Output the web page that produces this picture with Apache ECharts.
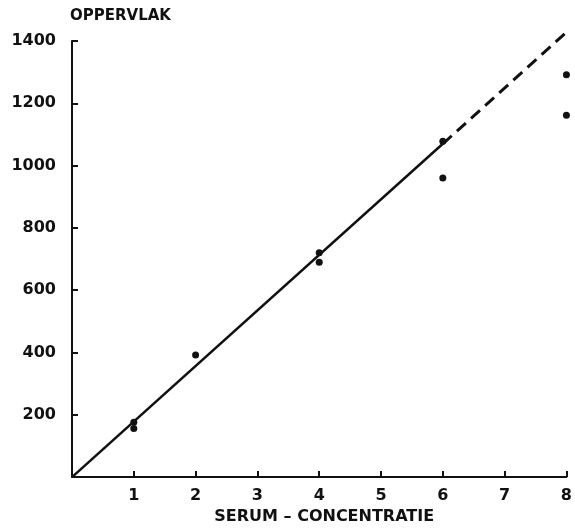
<!DOCTYPE html>
<html>
<head>
<meta charset="utf-8">
<script src="https://cdn.jsdelivr.net/npm/echarts@6/dist/echarts.min.js"></script>
<style>html,body{margin:0;padding:0;background:#fff;}#c{width:575px;height:530px;}</style>
</head>
<body>
<div id="c"></div>
<script>
// Data
var xTicks = [0, 1, 2, 3, 4, 5, 6, 7, 8];
var yTicks = [0, 200, 400, 600, 800, 1000, 1200, 1400];
var measuredX = [1, 1, 2, 4, 4, 6, 6, 8, 8];
var measuredY = [176, 156, 392, 720, 690, 1078, 960, 1292, 1162];
var fitSolidX = [0, 6];
var fitSolidY = [0, 1070];
var fitDashX = [6, 8];
var fitDashY = [1070, 1428];
var xName = 'SERUM – CONCENTRATIE';
var yName = 'OPPERVLAK';

var font = 'DejaVu Sans';
var chart = echarts.init(document.getElementById('c'));
function pairs(xs, ys){ return xs.map(function(x,i){return [x, ys[i]];}); }
chart.setOption({
  animation: false,
  backgroundColor: '#fff',
  grid: {left: 72, right: 6, top: 41, bottom: 51, containLabel: false},
  xAxis: {
    type: 'value', min: xTicks[0], max: xTicks[xTicks.length-1], interval: 1,
    name: xName, nameLocation: 'middle', nameGap: 28,
    nameTextStyle: {fontFamily: font, fontWeight: 'bold', fontSize: 16, color: '#111', padding:[0,0,0,10]},
    axisLine: {show: true, lineStyle: {color: '#111', width: 2}},
    axisTick: {show: true, inside: true, length: 6, lineStyle: {color: '#111', width: 2}},
    axisLabel: {showMinLabel: false, fontFamily: font, fontWeight: 'bold', fontSize: 16, color: '#111', margin: 11,
      formatter: function(v){ return String(v); }},
    splitLine: {show: false}
  },
  yAxis: {
    type: 'value', min: yTicks[0], max: yTicks[yTicks.length-1], interval: 200,
    name: yName, nameLocation: 'end', nameGap: 17,
    nameTextStyle: {fontFamily: font, fontWeight: 'bold', fontSize: 15, color: '#111', align: 'left', padding: [0,0,0,-2]},
    axisLine: {show: true, lineStyle: {color: '#111', width: 2}},
    axisTick: {show: true, inside: true, length: 6, lineStyle: {color: '#111', width: 2}},
    axisLabel: {showMinLabel: false, fontFamily: font, fontWeight: 'bold', fontSize: 16, color: '#111', margin: 16,
      formatter: function(v){ return String(v); }},
    splitLine: {show: false}
  },
  series: [
    {type: 'line', data: pairs(fitSolidX, fitSolidY), symbol: 'none', clip: false,
     lineStyle: {color: '#111', width: 2.5}},
    {type: 'line', data: pairs(fitDashX, fitDashY), symbol: 'none', clip: false,
     lineStyle: {color: '#111', width: 3, type: [12, 7]}},
    {type: 'scatter', data: pairs(measuredX, measuredY), symbolSize: 7, clip: false,
     itemStyle: {color: '#111', opacity: 1}}
  ]
});
</script>
</body>
</html>
